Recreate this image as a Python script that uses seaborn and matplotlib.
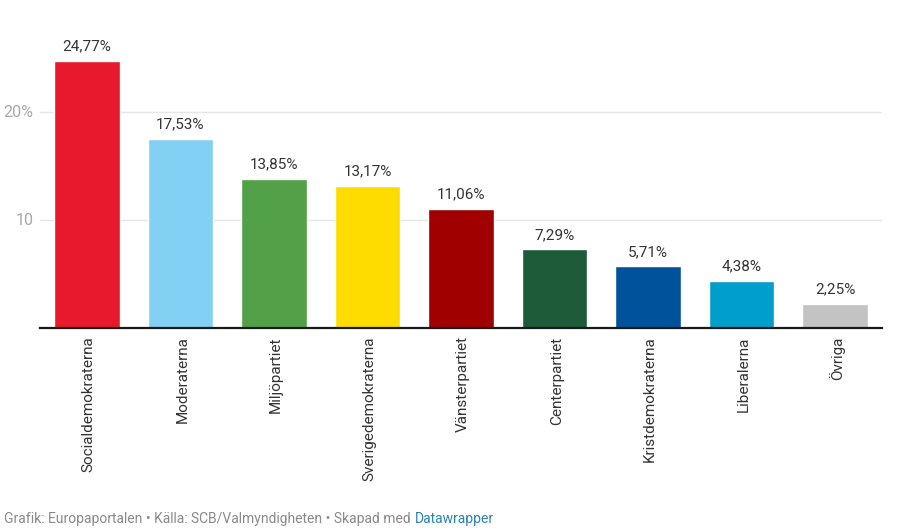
import seaborn as sns
import pandas as pd
import matplotlib.pyplot as plt
from matplotlib.transforms import ScaledTranslation

partier = ['Socialdemokraterna', 'Moderaterna', 'Miljöpartiet', 'Sverigedemokraterna',
           'Vänsterpartiet', 'Centerpartiet', 'Kristdemokraterna', 'Liberalerna', 'Övriga']
andel = [24.77, 17.53, 13.85, 13.17, 11.06, 7.29, 5.71, 4.38, 2.25]
etiketter = ['24,77%', '17,53%', '13,85%', '13,17%', '11,06%', '7,29%', '5,71%', '4,38%', '2,25%']
farger = ['#e8192c', '#83d0f5', '#52a047', '#fedc00', '#a00000', '#1e5b38', '#00539b', '#009ecb', '#c3c3c3']

sns.set_theme(style='white')
plt.rcParams['font.family'] = ['Roboto', 'DejaVu Sans']

df = pd.DataFrame({'parti': partier, 'andel': andel})

fig = plt.figure(figsize=(9.07, 5.30), dpi=100)
# axes: x 40-882 px, y 328 down to 18 px
ax = fig.add_axes([40/907, 1-328/530, 842/907, 310/530])
sns.barplot(data=df, x='parti', y='andel', hue='parti', palette=farger, legend=False,
            width=0.7, saturation=1, ax=ax, zorder=3)

ax.set_xlim(-0.5, 8.5)
ax.set_ylim(0, 28.75)
ax.set_xlabel('')
ax.set_ylabel('')
ax.set_yticks([10, 20])
ax.set_yticklabels([])
ax.grid(axis='y', color='#e6e6e6', lw=1, zorder=0)
ax.set_axisbelow(True)
sns.despine(ax=ax, left=True, top=True, right=True)
ax.spines['bottom'].set_color('#1a1a1a')
ax.spines['bottom'].set_linewidth(1.6)
ax.spines['bottom'].set_zorder(5)
ax.tick_params(axis='x', length=0, pad=6)
ax.tick_params(axis='y', length=0)
plt.setp(ax.get_xticklabels(), rotation=90, fontsize=11, color='#333333')
# labels sit a bit right of the bar centre in the original
for lab in ax.get_xticklabels():
    lab.set_transform(lab.get_transform() + ScaledTranslation(1.5/72, 0, fig.dpi_scale_trans))

# y labels end just left of the gridlines
for y, txt in zip([10, 20], ['10', '20%']):
    ax.text(-0.008, y, txt, transform=ax.get_yaxis_transform(), ha='right', va='center',
            fontsize=11.5, color='#a8a8a8')

for i, v in enumerate(andel):
    ax.text(i, v + 0.7, etiketter[i], ha='center', va='bottom', fontsize=11, color='#333333')

fig.text(4/907, 1-519/530, 'Grafik: Europaportalen • Källa: SCB/Valmyndigheten • Skapad med ',
         fontsize=10, color='#8a8a8a', va='center')
fig.text(415/907, 1-519/530, 'Datawrapper', fontsize=10, color='#2a83b1', va='center')

fig.savefig('out.png', dpi=100)
